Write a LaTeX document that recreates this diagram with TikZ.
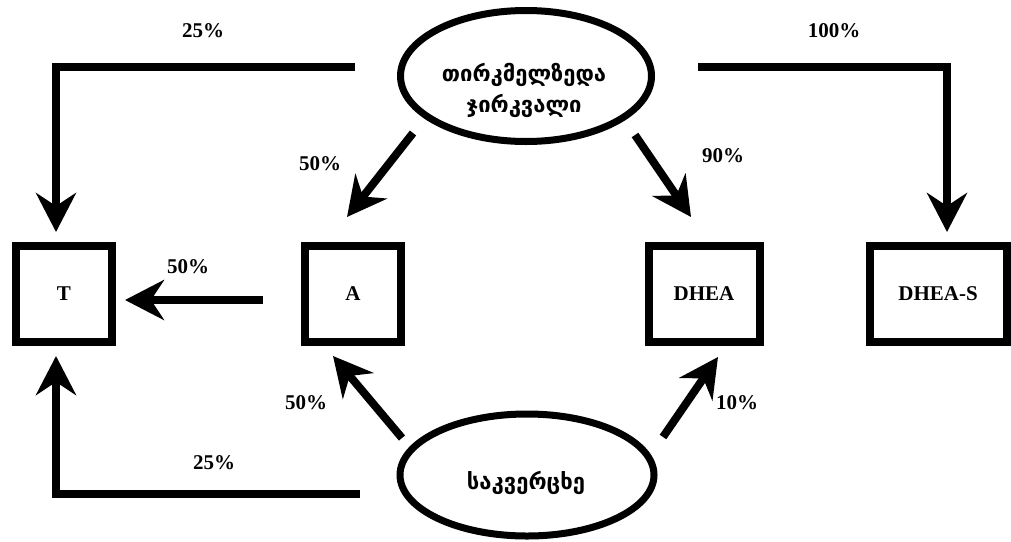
\documentclass[tikz,border=0pt]{standalone}
\usepackage{fontspec}
\setmainfont{Liberation Serif}
\newfontfamily\geofont[Script=Georgian]{DejaVu Sans}
\usetikzlibrary{arrows.meta,shapes.geometric,positioning}

\begin{document}
\begin{tikzpicture}[x=1pt, y=-1pt,
  box/.style={draw, rectangle, line width=8pt, minimum height=96pt, font=\bfseries\fontsize{21}{24}\selectfont},
  gland/.style={draw, ellipse, line width=7pt},
  geo/.style={font=\geofont\bfseries\fontsize{22}{31}\selectfont, align=center},
  lbl/.style={font=\bfseries\fontsize{21}{24}\selectfont, inner sep=0pt},
  flow/.style={line width=8pt, -{Stealth[length=39pt, width=40pt, inset=13pt]}}]
\useasboundingbox (0,0) rectangle (1011,541);

% glands
\node[gland, minimum width=251pt, minimum height=131pt] (adr) at (526,76) {};
\node[geo] (adrtxt) at (524,90) {თირკმელზედა\\ჯირკვალი};
\node[gland, minimum width=254pt, minimum height=122pt] (ov) at (527,475) {};
\node[geo] (ovtxt) at (526,483) {საკვერცხე};

% hormones
\node[box, minimum width=96pt] (T) at (64,294) {T};
\node[box, minimum width=96pt] (A) at (353,294) {A};
\node[box, minimum width=111pt] (DHEA) at (704,294) {DHEA};
\node[box, minimum width=137pt] (DHEAS) at (938,294) {DHEA-S};

% free ends
\coordinate (adrL) at (355,67);
\coordinate (adrR) at (698,67);
\coordinate (adrA) at (413,133);
\coordinate (adrD) at (635,135);
\coordinate (ovL) at (360,494);
\coordinate (ovA) at (402,438);
\coordinate (ovD) at (663,437);
\coordinate (fromA) at (263,300);

\draw[flow] (adrL) -- (56,67) -- (56,232);
\draw[flow] (adrR) -- (947,67) -- (947,232);
\draw[flow] (adrA) -- (347,217);
\draw[flow] (adrD) -- (691,217);
\draw[flow] (fromA) -- (125,300);
\draw[flow] (ovL) -- (56,494) -- (56,356);
\draw[flow] (ovA) -- (333,356);
\draw[flow] (ovD) -- (718,357);

% percentages
\node[lbl] at (203,31) {25\%};
\node[lbl] at (834,31) {100\%};
\node[lbl] at (320,164) {50\%};
\node[lbl] at (723,156) {90\%};
\node[lbl] at (188,267) {50\%};
\node[lbl] at (306,403) {50\%};
\node[lbl] at (737,403) {10\%};
\node[lbl] at (214,463) {25\%};
\end{tikzpicture}
\end{document}
